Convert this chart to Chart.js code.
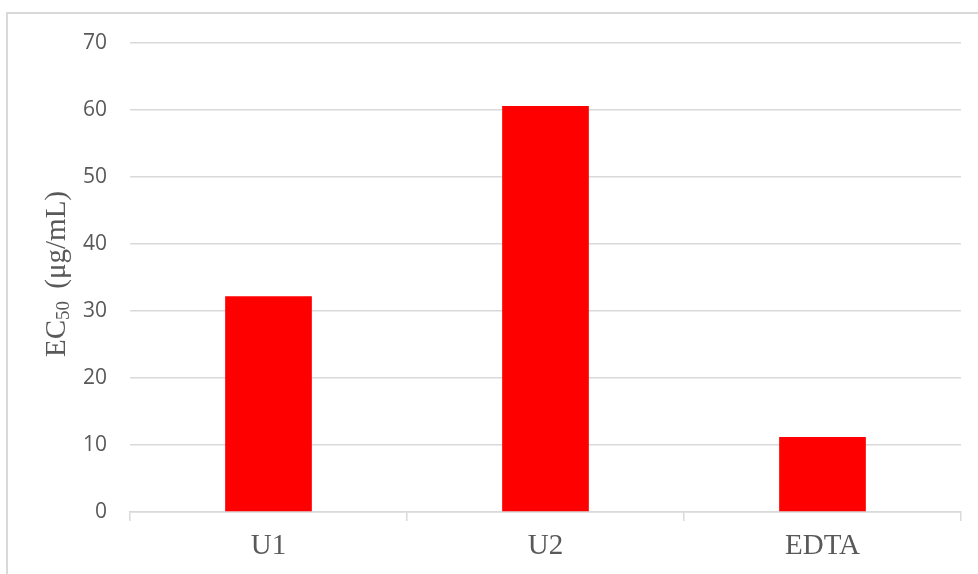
<!DOCTYPE html>
<html>
<head>
<meta charset="utf-8">
<script src="https://cdn.jsdelivr.net/npm/chart.js@4/dist/chart.umd.min.js"></script>
<style>
  html, body { margin: 0; padding: 0; background: #fff; }
  #wrap { width: 978px; height: 574px; position: relative; }
</style>
</head>
<body>
<div id="wrap"><canvas id="c"></canvas></div>
<script>
const categories = ["U1", "U2", "EDTA"];
const ec50Values = [32.2, 60.6, 11.2];
const yTicks = [0, 10, 20, 30, 40, 50, 60, 70];
const yTitleMain = "EC";
const yTitleSub = "50";
const yTitleRest = " (\u03bcg/mL)";

const frame = {
  id: 'frame',
  beforeDraw(chart) {
    const ctx = chart.ctx;
    ctx.save();
    ctx.strokeStyle = '#d9d9d9';
    ctx.lineWidth = 2;
    ctx.beginPath();
    ctx.moveTo(978, 13);
    ctx.lineTo(7, 13);
    ctx.lineTo(7, 574);
    ctx.stroke();
    ctx.restore();
  }
};

const yTitle = {
  id: 'yTitle',
  afterDraw(chart) {
    const ctx = chart.ctx;
    const ca = chart.chartArea;
    const cy = 274;
    ctx.save();
    ctx.translate(57, cy);
    ctx.rotate(-Math.PI / 2);
    ctx.fillStyle = '#595959';
    ctx.textBaseline = 'middle';
    const big = '29px "Liberation Serif", "Times New Roman", serif';
    const small = '19px "Liberation Serif", "Times New Roman", serif';
    ctx.font = big;
    const w1 = ctx.measureText(yTitleMain).width;
    const w3 = ctx.measureText(yTitleRest).width;
    ctx.font = small;
    const w2 = ctx.measureText(yTitleSub).width;
    const total = w1 + w2 + w3 + 5;
    let x = -total / 2;
    ctx.textAlign = 'left';
    ctx.font = big;
    ctx.fillText(yTitleMain, x, 0);
    x += w1;
    ctx.font = small;
    ctx.fillText(yTitleSub, x, 7);
    x += w2 + 5;
    ctx.font = big;
    ctx.fillText(yTitleRest, x, 0);
    ctx.restore();
  }
};

new Chart(document.getElementById('c'), {
  type: 'bar',
  data: {
    labels: categories,
    datasets: [{
      data: ec50Values,
      backgroundColor: '#ff0000',
      borderWidth: 0,
      categoryPercentage: 1.0,
      barPercentage: 0.313
    }]
  },
  options: {
    responsive: true,
    maintainAspectRatio: false,
    animation: false,
    layout: { padding: { top: 43, right: 17, left: 0, bottom: 0 } },
    plugins: { legend: { display: false }, tooltip: { enabled: false } },
    scales: {
      x: {
        afterFit(s) { s.height = 62; },
        grid: {
          offset: true,
          drawOnChartArea: false,
          drawTicks: true,
          tickLength: 9,
          color: '#d9d9d9',
          lineWidth: 1.5
        },
        border: { color: '#d9d9d9', width: 1.5 },
        ticks: {
          color: '#595959',
          padding: 8,
          font: { family: '"Liberation Serif", "Times New Roman", serif', size: 29 }
        }
      },
      y: {
        min: 0,
        max: 70,
        afterFit(s) { s.width = 130; },
        afterBuildTicks(s) { s.ticks = yTicks.map(v => ({ value: v })); },
        grid: { color: '#d9d9d9', lineWidth: 1.5, drawTicks: false },
        border: { display: false },
        ticks: {
          color: '#595959',
          padding: 23,
          font: { family: '"Open Sans", "Liberation Sans", sans-serif', size: 21 }
        }
      }
    }
  },
  plugins: [frame, yTitle]
});
</script>
</body>
</html>
